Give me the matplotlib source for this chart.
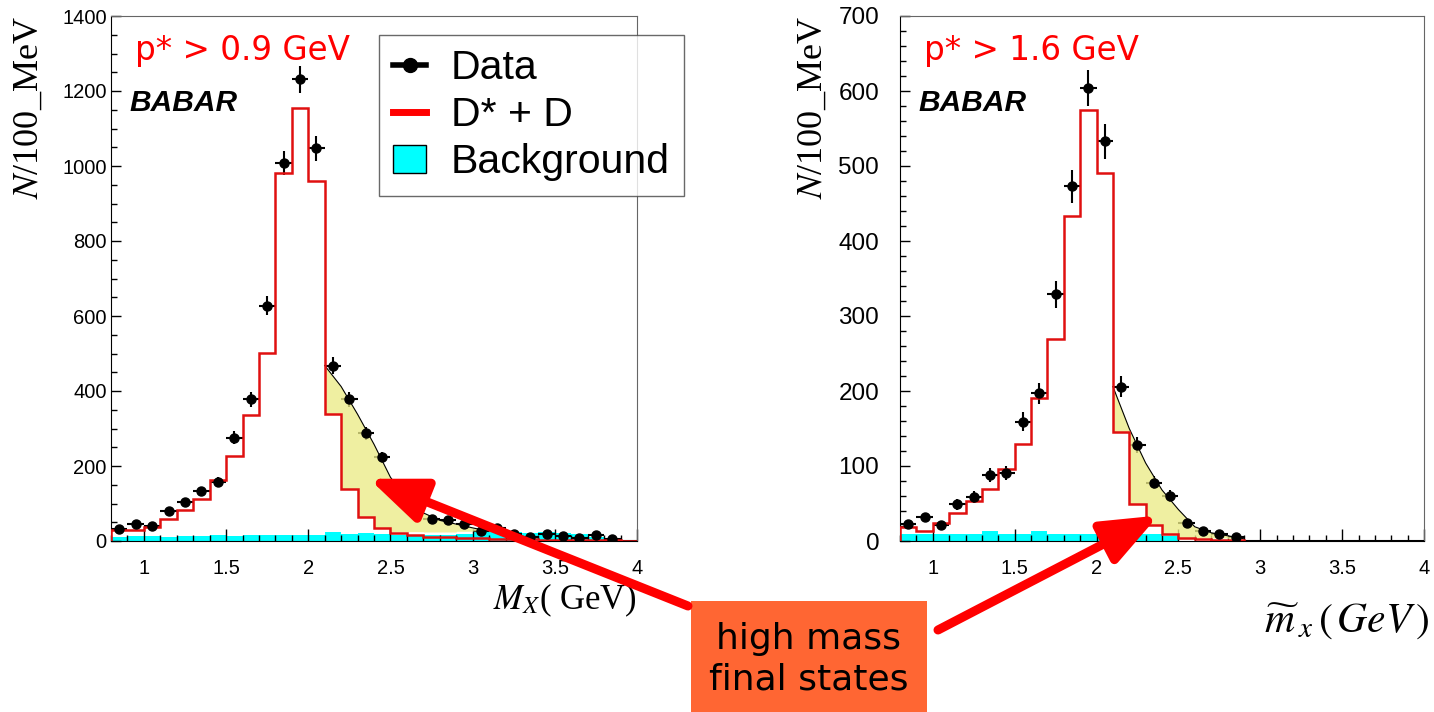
import numpy as np
import matplotlib.pyplot as plt
from matplotlib.lines import Line2D
from matplotlib.patches import Patch, Rectangle, ConnectionPatch
from matplotlib.ticker import MultipleLocator, FuncFormatter

plt.rcParams['font.family'] = ['Liberation Sans', 'DejaVu Sans']
plt.rcParams['mathtext.fontset'] = 'stix'

# 100 MeV bins starting at 0.8 GeV
bin_lo = 0.8
bin_w = 0.1

# p* > 0.9 GeV
left_data = [33, 46, 40, 79, 104, 133, 157, 276, 378, 627, 1008, 1231, 1047,
             468, 378, 287, 223, 148, 89, 60, 56, 45, 28, 36, 19, 12, 19, 14,
             8, 16, 6, 0]
left_sig = [30, 30, 37, 58, 84, 111, 162, 227, 335, 501, 982, 1156, 960,
            338, 138, 64, 36, 22, 16, 12, 10, 8, 7, 6, 5, 5, 4, 4, 4, 3, 3, 0]
left_bkg = [12, 14, 13, 12, 13, 14, 15, 14, 17, 15, 16, 15, 17, 25, 19, 21,
            20, 17, 15, 16, 17, 20, 24, 23, 25, 22, 25, 22, 18, 12, 5]
left_fit_x = [2.1, 2.2, 2.3, 2.4, 2.5, 2.6, 2.7, 2.8, 2.9, 3.0, 3.1]
left_fit_y = [468, 412, 338, 258, 170, 112, 75, 55, 45, 35, 26]
left_fill_low = [338, 138, 64, 36, 25, 25, 24, 24, 26, 27]

# p* > 1.6 GeV
right_data = [23, 32, 21, 49, 59, 88, 91, 159, 197, 329, 473, 604, 533,
              206, 128, 78, 60, 24, 13, 10, 5, 0, 0, 0, 0, 0, 0, 0, 0, 0, 0, 0]
right_sig = [19, 13, 24, 37, 53, 70, 96, 130, 191, 270, 433, 575, 491,
             146, 50, 21, 10, 4, 3, 2, 2]
right_bkg = [10, 10, 10, 10, 9, 13, 10, 10, 13, 10, 10, 9, 10, 9, 9, 9, 7]
right_fit_x = [2.1, 2.2, 2.3, 2.4, 2.5, 2.6, 2.7, 2.8, 2.9]
right_fit_y = [206, 150, 104, 68, 42, 19, 11, 7, 3]
right_fill_low = [146, 50, 21, 10, 5, 4, 4, 3]


def bin_edges(n):
    return bin_lo + bin_w * np.arange(n + 1)


def draw_panel(ax, data, sig, bkg, fit_x, fit_y, fill_low, ymax, ymaj, ymin, cut):
    data = np.asarray(data, dtype=float)
    centers = bin_lo + bin_w * (np.arange(len(data)) + 0.5)

    ax.stairs(bkg, bin_edges(len(bkg)), fill=True, color='#00ffff', lw=0, zorder=1)

    # excess above D* + D
    xs = np.linspace(fit_x[0], fit_x[-1], 800)
    top = np.interp(xs, fit_x, fit_y)
    idx = np.minimum(((xs - fit_x[0]) / bin_w + 1e-9).astype(int), len(fill_low) - 1)
    bottom = np.asarray(fill_low, dtype=float)[idx]
    ax.fill_between(xs, bottom, top, color='#ebeb87', alpha=0.78, lw=0, zorder=3)
    ax.plot(fit_x, fit_y, color='k', lw=0.8, zorder=3.5)

    ax.stairs(sig, bin_edges(len(sig)), baseline=0, color='#e01010', lw=1.8, zorder=4)

    ax.errorbar(centers, data, xerr=bin_w / 2, yerr=np.sqrt(data), fmt='none',
                ecolor='k', elinewidth=1.5, capsize=0, zorder=2)
    pos = data > 0
    ax.plot(centers[pos], data[pos], 'o', color='k', ms=6.5, zorder=5)

    ax.set_xlim(0.8, 4.0)
    ax.set_ylim(0, ymax)
    ax.xaxis.set_major_locator(MultipleLocator(0.5))
    ax.xaxis.set_minor_locator(MultipleLocator(0.1))
    ax.yaxis.set_major_locator(MultipleLocator(ymaj))
    ax.yaxis.set_minor_locator(MultipleLocator(ymin))
    ax.xaxis.set_major_formatter(FuncFormatter(lambda v, p: f'{v:g}'))
    ax.tick_params(which='both', direction='in', top=False, right=False,
                   labelsize=14.5, width=1, color='k')
    ax.tick_params(axis='x', which='major', length=9, pad=13)
    ax.tick_params(axis='x', which='minor', length=4.5)
    ax.tick_params(axis='y', which='major', length=7, pad=3)
    ax.tick_params(axis='y', which='minor', length=4)
    for side in ('top', 'right'):
        ax.spines[side].set_color('#666666')
    for side in ('left', 'bottom'):
        ax.spines[side].set_color('k')

    ax.text(0.045, 0.935, cut, transform=ax.transAxes, color='red',
            fontsize=23.5, family='DejaVu Sans', va='center', ha='left')
    ax.text(0.035, 0.835, 'BABAR', transform=ax.transAxes, fontsize=21.5,
            fontweight='bold', style='italic', va='center', ha='left')
    ax.set_ylabel(r'$N$/100_MeV', family='Liberation Serif', fontsize=26, loc='top')


fig = plt.figure(figsize=(14.34, 7.12), dpi=100)
ax1 = fig.add_axes([111 / 1434, 171 / 712, 526 / 1434, 525 / 712])
ax2 = fig.add_axes([900 / 1434, 171 / 712, 524 / 1434, 525 / 712])

draw_panel(ax1, left_data, left_sig, left_bkg, left_fit_x, left_fit_y,
           left_fill_low, 1400, 200, 50, 'p* > 0.9 GeV')
draw_panel(ax2, right_data, right_sig, right_bkg, right_fit_x, right_fit_y,
           right_fill_low, 700, 100, 20, 'p* > 1.6 GeV')

# the right panel carries larger count labels
ax2.tick_params(axis='y', which='major', labelsize=17.5, pad=15)

ax1.yaxis.set_label_coords(-0.124, 1.0)
ax2.yaxis.set_label_coords(-0.135, 1.0)

ax1.set_xlabel(r'$M_X$( GeV)', family='Liberation Serif', fontsize=25, loc='right')
ax1.xaxis.set_label_coords(1.0, -0.078)
ax2.text(1.012, -0.152, r'$\widetilde{m}_{\,x}\,(\,GeV\,)$', transform=ax2.transAxes,
         fontsize=30, ha='right', va='center')

handles = [Line2D([0], [0], color='k', lw=4, marker='o', ms=10),
           Line2D([0], [0], color='red', lw=5),
           Patch(facecolor='#00ffff', edgecolor='k', lw=1)]
leg = fig.legend(handles, ['Data', 'D* + D', 'Background'], loc='upper left',
                 bbox_to_anchor=(379 / 1434, 1 - 35 / 712), bbox_transform=fig.transFigure,
                 borderaxespad=0, fontsize=29.5, frameon=True, fancybox=False,
                 handlelength=0.8, handletextpad=0.6, labelspacing=0.22, borderpad=0.35)
leg.get_frame().set_edgecolor('#444444')
leg.get_frame().set_linewidth(1)

# label box and arrows
fig.add_artist(Rectangle((691 / 1434, 0), 236 / 1434, 111 / 712, transform=fig.transFigure,
                         facecolor='#ff6633', edgecolor='none', zorder=6))
fig.text(809 / 1434, 53 / 712, 'high mass\nfinal states', ha='center', va='center',
         fontsize=26, family='DejaVu Sans', linespacing=1.25, zorder=7)

for ax, tail, tip in [(ax1, (688, 106), (2.37, 166)), (ax2, (938, 82), (2.378, 34))]:
    arrow = ConnectionPatch(xyA=tail, coordsA='figure pixels', xyB=tip, coordsB=ax.transData,
                            arrowstyle='-|>,head_length=0.85,head_width=0.34',
                            mutation_scale=40, color='red', lw=6.5,
                            shrinkA=0, shrinkB=0, zorder=8)
    fig.add_artist(arrow)

fig.savefig('out.png', dpi=100)
